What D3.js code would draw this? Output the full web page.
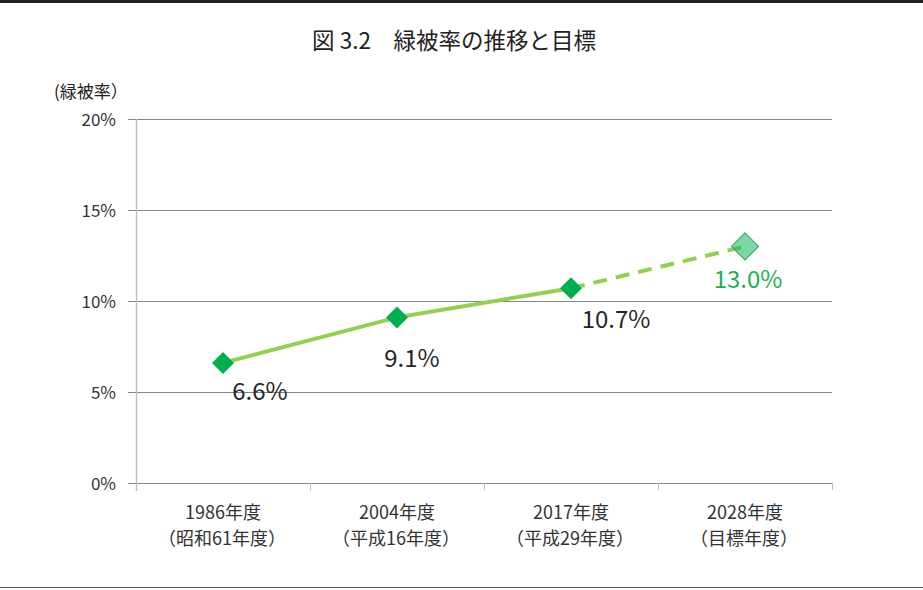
<!DOCTYPE html>
<html>
<head>
<meta charset="utf-8">
<script src="https://cdn.jsdelivr.net/npm/d3@7"></script>
<style>
  body { margin: 0; background: #fff; }
  text { font-family: "Noto Sans CJK JP", "Noto Sans", sans-serif; }
</style>
</head>
<body>
<div id="chart"></div>
<script>
// chart data
const years = ["1986年度", "2004年度", "2017年度", "2028年度"];
const subLabels = ["（昭和61年度）", "（平成16年度）", "（平成29年度）", "（目標年度）"];
const rates = [6.6, 9.1, 10.7, 13.0];
const rateLabels = ["6.6%", "9.1%", "10.7%", "13.0%"];
const yTicks = [0, 5, 10, 15, 20];

const W = 923, H = 590;
const margin = {top: 119, right: 91, bottom: 107, left: 136};
const width = W - margin.left - margin.right,
      height = H - margin.top - margin.bottom;

const svg = d3.select("#chart").append("svg")
    .attr("width", W).attr("height", H);

// frame lines top and bottom
svg.append("line").attr("x1", 0).attr("x2", W).attr("y1", 1.5).attr("y2", 1.5)
    .attr("stroke", "#222").attr("stroke-width", 3);
svg.append("line").attr("x1", 0).attr("x2", W).attr("y1", 587.5).attr("y2", 587.5)
    .attr("stroke", "#555").attr("stroke-width", 1);

svg.append("text")
    .attr("x", 454).attr("y", 49)
    .attr("text-anchor", "middle")
    .attr("font-size", 22.5)
    .attr("fill", "#222")
    .text("図 3.2　緑被率の推移と目標");

svg.append("text")
    .attr("x", 54).attr("y", 98)
    .attr("font-size", 17)
    .attr("fill", "#222")
    .text("(緑被率）");

const g = svg.append("g")
    .attr("transform", `translate(${margin.left},${margin.top})`);

const x = d3.scaleBand().domain(years).range([0, width]);
const y = d3.scaleLinear().domain([0, 20]).range([height, 0]);

// gridlines
g.selectAll(".grid").data(yTicks).enter().append("line")
    .attr("x1", -8).attr("x2", width)
    .attr("y1", d => Math.round(y(d)) + 0.5).attr("y2", d => Math.round(y(d)) + 0.5)
    .attr("stroke", "#868686").attr("stroke-width", 1);

// y axis line
g.append("line").attr("x1", 0.5).attr("x2", 0.5).attr("y1", 0).attr("y2", height + 8)
    .attr("stroke", "#bfbfbf").attr("stroke-width", 1.5);

// y tick labels
g.selectAll(".ylab").data(yTicks).enter().append("text")
    .attr("x", -20).attr("y", d => y(d) + 6.5)
    .attr("text-anchor", "end")
    .attr("font-size", 17)
    .attr("fill", "#333")
    .text(d => d + "%");

// x ticks at band boundaries
const bounds = years.map(d => x(d)).concat([width]);
g.selectAll(".xtick").data(bounds.slice(1)).enter().append("line")
    .attr("x1", d => Math.round(d) + 0.5).attr("x2", d => Math.round(d) + 0.5)
    .attr("y1", height).attr("y2", height + 7)
    .attr("stroke", "#bfbfbf").attr("stroke-width", 1);

// x labels
const xl = g.selectAll(".xlab").data(years).enter().append("text")
    .attr("text-anchor", "middle")
    .attr("font-size", 18)
    .attr("fill", "#333");
xl.append("tspan")
    .attr("x", d => x(d) + x.bandwidth() / 2).attr("y", height + 36)
    .text(d => d);
xl.append("tspan")
    .attr("x", (d, i) => x(d) + x.bandwidth() / 2 - 1).attr("y", height + 62)
    .text((d, i) => subLabels[i]);

const cx = i => x(years[i]) + x.bandwidth() / 2;

// solid line through actual values
const line = d3.line().x(d => cx(d.i)).y(d => y(d.v));
const pts = rates.map((v, i) => ({v, i}));
g.append("path").datum(pts.slice(0, 3))
    .attr("d", line).attr("fill", "none")
    .attr("stroke", "#92d050").attr("stroke-width", 4);
g.append("path").datum(pts.slice(2))
    .attr("d", line).attr("fill", "none")
    .attr("stroke", "#92d050").attr("stroke-width", 4)
    .attr("stroke-dasharray", "14 9");

// markers
const diamond = s => `M0,${-s}L${s},0L0,${s}L${-s},0Z`;
g.selectAll(".mk").data(pts.slice(0, 3)).enter().append("path")
    .attr("transform", d => `translate(${cx(d.i)},${y(d.v)})`)
    .attr("d", diamond(11))
    .attr("fill", "#00b050");
g.append("path").datum(pts[3])
    .attr("transform", d => `translate(${cx(d.i)},${y(d.v)})`)
    .attr("d", diamond(13.5))
    .attr("fill", "#00b050").attr("fill-opacity", 0.5)
    .attr("stroke", "#3cb062").attr("stroke-width", 1.2);

// data labels
const offs = [{dx: 37, dy: 37}, {dx: 15, dy: 50}, {dx: 45, dy: 40}, {dx: 3, dy: 42}];
g.selectAll(".dl").data(pts).enter().append("text")
    .attr("x", d => cx(d.i) + offs[d.i].dx)
    .attr("y", d => y(d.v) + offs[d.i].dy)
    .attr("text-anchor", "middle")
    .attr("font-size", 24)
    .attr("font-family", "'Open Sans', 'Noto Sans', sans-serif")
    .attr("fill", d => d.i === 3 ? "#1db150" : "#262626")
    .text(d => rateLabels[d.i]);
</script>
</body>
</html>
